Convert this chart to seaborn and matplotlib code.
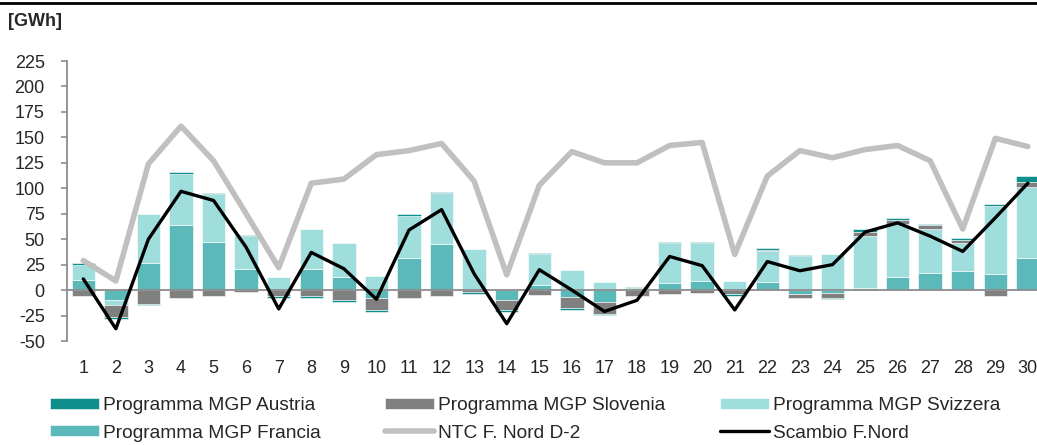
import numpy as np
import pandas as pd
import matplotlib
matplotlib.use('Agg')
import matplotlib.pyplot as plt
from matplotlib import lines
import seaborn as sns

# data (GWh)
days = list(range(1, 31))
francia = [10, -9.5, 27, 64, 47, 21, 0, 21, 13, -8, 32, 45, 0, -10, 5,
           -6.5, -12, 0, 7, 9, 0, 8, -4, -3, 2, 13, 17, 19, 16, 32]
svizzera = [15, -5.5, 48, 50.5, 47, 32, 13, 39, 33, 14, 41, 50, 40, 0, 30,
            19.5, 8, 2, 39, 37, 8.5, 30, 33, 35, 51, 52, 43, 27, 67, 69]
slovenia = [-6, -11.5, -13.5, -7.7, -6, -2, -6, -6, -10, -12, -7.7, -5.7, -2, -10, -4.4,
            -11.5, -11, -6, -4, -2.5, -4, 1.6, -3.5, -4.7, 3.9, 3.9, 3.9, 3.6, -6, 5.6]
austria = [1.5, -1.6, -1.6, 1.5, 1.5, 1.3, -2, -1.7, -1.3, -1.3, 1.5, 1.5, -1.5, -1.3, 1.5,
           -1.2, -1.2, 1.2, 1.5, 1.5, -1.9, 1.6, 1.3, -1.3, 3.3, 1.6, 1.3, 1.6, 1.6, 5.2]
ntc = [29, 9, 124, 161, 127, 75, 22, 105, 109, 133, 137, 144, 107, 15, 103,
       136, 125, 125, 142, 145, 35, 112, 137, 130, 138, 142, 127, 60, 149, 141]
scambio = [11, -38, 50, 97, 88, 42, -18.5, 37, 21, -9, 59, 79, 16, -33, 20,
           0, -21, -10, 33, 24, -19.5, 28, 19, 25, 57, 66, 53, 38, 71, 105]

yticks = list(range(-50, 226, 25))

c_austria = '#0f8f8c'
c_slovenia = '#808080'
c_svizzera = '#a0dedd'
c_francia = '#5bbab9'
c_ntc = '#c0c0c0'
c_scambio = '#000000'

sns.set_theme(style='white')
plt.rcParams['font.family'] = ['Liberation Sans', 'DejaVu Sans']

fs = 13

fig = plt.figure(figsize=(10.37, 4.45), dpi=100)
ax = fig.add_axes([67/1037, 1 - 341/445, 1 - 67/1037, 280/445])

df = pd.DataFrame({'day': days, 'francia': francia, 'svizzera': svizzera,
                   'slovenia': slovenia, 'austria': austria,
                   'ntc': ntc, 'scambio': scambio})

# stacked bars, positives and negatives stacked separately (Excel style)
pos = np.zeros(len(days))
neg = np.zeros(len(days))
for col, color, label in [('francia', c_francia, 'Programma MGP Francia'),
                          ('svizzera', c_svizzera, 'Programma MGP Svizzera'),
                          ('slovenia', c_slovenia, 'Programma MGP Slovenia'),
                          ('austria', c_austria, 'Programma MGP Austria')]:
    v = df[col].to_numpy(dtype=float)
    bottom = np.where(v >= 0, pos, neg)
    ax.bar(df['day'], v, bottom=bottom, width=0.72, color=color,
           edgecolor='white', linewidth=0.4, label=label, zorder=2)
    pos += np.clip(v, 0, None)
    neg += np.clip(v, None, 0)

ax.axhline(0, color='#8c8c8c', lw=1.3, zorder=3)

sns.lineplot(data=df, x='day', y='ntc', color=c_ntc, lw=4.0, ax=ax,
             label='NTC F. Nord D-2', zorder=4)
sns.lineplot(data=df, x='day', y='scambio', color=c_scambio, lw=2.4, ax=ax,
             label='Scambio F.Nord', zorder=5)
if ax.get_legend() is not None:
    ax.get_legend().remove()

ax.set_xlim(0.5, 30.28)
ax.set_ylim(-50, 225)
ax.set_xlabel('')
ax.set_ylabel('')
ax.set_xticks(days)
ax.set_xticklabels([str(d) for d in days], fontsize=fs)
ax.set_yticks(yticks)
ax.set_yticklabels([str(t) for t in yticks], fontsize=fs)
ax.tick_params(axis='x', length=0, pad=14)
ax.tick_params(axis='y', length=4, width=1.2, color='#8c8c8c', direction='out',
               left=True, pad=12)
for s in ['top', 'right', 'bottom']:
    ax.spines[s].set_visible(False)
ax.spines['left'].set_color('#8c8c8c')
ax.spines['left'].set_linewidth(1.3)
ax.set_facecolor('white')

# legend in three columns placed like the original
h, l = ax.get_legend_handles_labels()
hd = dict(zip(l, h))
cols = [(['Programma MGP Austria', 'Programma MGP Francia'], 50),
        (['Programma MGP Slovenia', 'NTC F. Nord D-2'], 385),
        (['Programma MGP Svizzera', 'Scambio F.Nord'], 720)]
for labs, x0 in cols:
    fig.legend([hd[k] for k in labs], labs, loc='upper left',
               bbox_to_anchor=(x0/1037, 1 - 397/445), bbox_transform=fig.transFigure,
               frameon=False, fontsize=13.8, handlelength=2.55, handleheight=0.5,
               handletextpad=0.2, labelspacing=0.55, borderpad=0, borderaxespad=0)

# header line and unit label
fig.add_artist(lines.Line2D([0, 1], [1 - 3/445, 1 - 3/445], color='black', lw=2,
                            transform=fig.transFigure))
fig.text(8/1037, 1 - 22/445, '[GWh]', fontsize=fs, fontweight='bold',
         ha='left', va='center')

fig.savefig('out.png', dpi=100)
